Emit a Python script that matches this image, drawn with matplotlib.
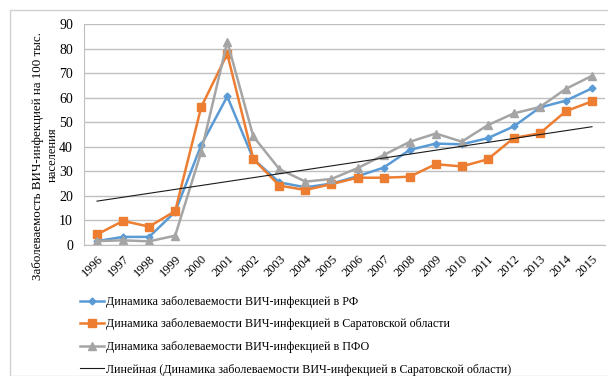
import matplotlib

matplotlib.use("Agg")
import matplotlib.pyplot as plt
import numpy as np
from matplotlib.patches import Rectangle

plt.rcParams["font.family"] = ["Liberation Serif", "DejaVu Serif"]

years = [str(y) for y in range(1996, 2016)]

# incidence per 100k population
rf = [1.6, 3.3, 3.3, 13.5, 40.7, 60.5, 35.0, 25.5, 23.5, 25.0, 28.0, 31.5,
      38.7, 41.3, 41.0, 43.5, 48.3, 56.0, 58.8, 63.8]
saratov = [4.3, 9.8, 7.5, 13.8, 56.2, 77.8, 35.0, 24.2, 22.4, 24.8, 27.4, 27.4,
           27.8, 32.9, 32.0, 34.9, 43.6, 45.5, 54.5, 58.5]
pfo = [1.6, 1.9, 1.5, 3.8, 37.9, 82.8, 44.2, 30.9, 25.8, 26.9, 31.3, 36.6,
       42.0, 45.4, 42.1, 48.8, 53.6, 56.2, 63.6, 68.9]

labels = [
    "Динамика заболеваемости ВИЧ-инфекцией в РФ",
    "Динамика заболеваемости ВИЧ-инфекцией в Саратовской области",
    "Динамика заболеваемости ВИЧ-инфекцией в ПФО",
    "Линейная (Динамика заболеваемости ВИЧ-инфекцией в Саратовской области)",
]

x = np.arange(len(years))

fig = plt.figure(figsize=(6.08, 3.76), dpi=100)
ax = fig.add_axes([84 / 608, 1 - 245 / 376, 521 / 608, 221 / 376])

ax.plot(x, rf, color="#5B9BD5", lw=1.8, marker="D", ms=3.5, label=labels[0])
ax.plot(x, saratov, color="#ED7D31", lw=1.8, marker="s", ms=5.5, label=labels[1])
ax.plot(x, pfo, color="#A5A5A5", lw=1.8, marker="^", ms=6, label=labels[2])

# linear trend of the Saratov series
slope, intercept = np.polyfit(x, saratov, 1)
ax.plot(x, slope * x + intercept, color="#1a1a1a", lw=0.8, label=labels[3])

ax.set_xlim(-0.5, len(years) - 0.5)
ax.set_ylim(0, 90)
ax.set_yticks(range(0, 91, 10))
ax.set_xticks(x)
ax.set_xticklabels(years, rotation=45, ha="right", rotation_mode="anchor")
ax.tick_params(length=0)
ax.tick_params(axis="x", labelsize=9, pad=6)
ax.tick_params(axis="y", labelsize=10, pad=8)
ax.grid(axis="y", color="#BFBFBF", lw=1)
ax.set_axisbelow(True)
for side in ["top", "right"]:
    ax.spines[side].set_visible(False)
ax.spines["left"].set_color("#BFBFBF")
ax.spines["bottom"].set_color("#BFBFBF")

fig.text(38 / 608, 1 - 156 / 376, "Заболеваемость ВИЧ-инфекцией на 100 тыс.",
         rotation=90, ha="center", va="center", fontsize=9.4)
fig.text(53 / 608, 1 - 155 / 376, "населения",
         rotation=90, ha="center", va="center", fontsize=9)

fig.legend(loc="upper left", bbox_to_anchor=(75 / 608, 1 - 291 / 376),
           frameon=False, fontsize=8.65, handlelength=2.0, handletextpad=0.2,
           labelspacing=0.88, borderaxespad=0)

fig.patches.append(Rectangle((10 / 608, 0), 1, 1 - 10 / 376,
                             transform=fig.transFigure, fill=False,
                             edgecolor="#D0D0D0", lw=1))

fig.savefig("out.png", dpi=100)
